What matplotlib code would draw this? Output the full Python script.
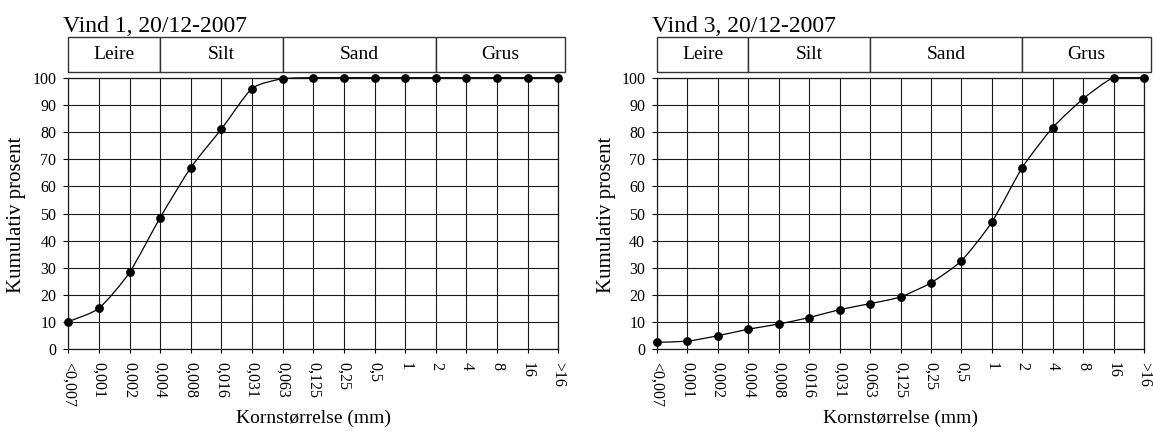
import matplotlib
matplotlib.use("Agg")
import matplotlib.pyplot as plt
from matplotlib.path import Path
from matplotlib.patches import PathPatch, Rectangle
import numpy as np

plt.rcParams['font.family'] = ['Liberation Serif', 'DejaVu Serif']

# ---------------- data ----------------
categories = ['<0,007', '0,001', '0,002', '0,004', '0,008', '0,016', '0,031',
              '0,063', '0,125', '0,25', '0,5', '1', '2', '4', '8', '16', '>16']
vind1 = [10.2, 15.1, 28.3, 48.5, 66.9, 81.1, 96.0, 99.6, 100, 100, 100,
         100, 100, 100, 100, 100, 100]
vind3 = [2.6, 3.0, 5.0, 7.4, 9.3, 11.7, 14.6, 16.8, 19.3, 24.5, 32.6,
         46.8, 66.9, 81.6, 92.2, 100, 100]
titles = ['Vind 1, 20/12-2007', 'Vind 3, 20/12-2007']
fractions = ['Leire', 'Silt', 'Sand', 'Grus']
fraction_starts = ['<0,007', '0,004', '0,063', '2']
yticks = [0, 10, 20, 30, 40, 50, 60, 70, 80, 90, 100]
xlabel = 'Kornstørrelse (mm)'
ylabel = 'Kumulativ prosent'

W, H = 1153, 432
fig = plt.figure(figsize=(W / 100, H / 100), dpi=100)
TENSION = 1 / 9


def smooth_path(xs, ys):
    xs = np.asarray(xs, float)
    ys = np.asarray(ys, float)
    n = len(xs)
    verts = [(xs[0], ys[0])]
    codes = [Path.MOVETO]
    for i in range(n - 1):
        p0 = i - 1 if i > 0 else i
        p3 = i + 2 if i + 2 < n else i + 1
        c1x = xs[i] + (xs[i + 1] - xs[p0]) * TENSION
        c1y = ys[i] + (ys[i + 1] - ys[p0]) * TENSION
        c2x = xs[i + 1] - (xs[p3] - xs[i]) * TENSION
        c2y = ys[i + 1] - (ys[p3] - ys[i]) * TENSION
        c1y = min(max(c1y, 0), 100)
        c2y = min(max(c2y, 0), 100)
        verts += [(c1x, c1y), (c2x, c2y), (xs[i + 1], ys[i + 1])]
        codes += [Path.CURVE4] * 3
    return Path(verts, codes)


def draw_chart(x0_px, w_px, values, title, ylab_x_px):
    left = x0_px / W
    bottom = 82.7 / H
    width = w_px / W
    height = 271.6 / H
    ax = fig.add_axes([left, bottom, width, height])
    x = np.arange(len(categories))
    ax.set_xlim(0, len(categories) - 1)
    ax.set_ylim(0, 100)
    ax.set_xticks(x)
    ax.set_xticklabels(categories, rotation=-90, ha='center', va='top',
                       fontsize=11.5)
    ax.set_yticks(yticks)
    ax.set_yticklabels([str(t) for t in yticks], fontsize=11.5)
    ax.tick_params(axis='y', direction='out', length=3.5, width=0.8, pad=5)
    ax.tick_params(axis='x', direction='out', length=3, width=0.8, pad=6)
    ax.grid(True, color='#1a1a1a', linewidth=0.8)
    ax.set_axisbelow(True)
    for s in ax.spines.values():
        s.set_color('#1a1a1a')
        s.set_linewidth(0.9)
    patch = PathPatch(smooth_path(x, values), facecolor='none',
                      edgecolor='black', linewidth=0.9, clip_on=False,
                      zorder=3)
    ax.add_patch(patch)
    ax.plot(x, values, linestyle='none', marker='o', markersize=5.3,
            color='black', clip_on=False, zorder=4)

    # header boxes
    hax = fig.add_axes([left, (H - 71.7) / H, width, 35 / H])
    hax.set_xlim(0, len(categories) - 1)
    hax.set_ylim(0, 1)
    hax.axis('off')
    starts = [categories.index(c) for c in fraction_starts]
    ends = starts[1:] + [len(categories) - 1 + 0.22]
    for name, s, e in zip(fractions, starts, ends):
        hax.add_patch(Rectangle((s, 0), e - s, 1, facecolor='white',
                                edgecolor='#333333', linewidth=1.0,
                                clip_on=False))
        hax.text((s + e) / 2, 0.5, name, ha='center', va='center',
                 fontsize=14)

    fig.text((x0_px - 5.4) / W, (H - 32.5) / H, title, ha='left',
             va='baseline', fontsize=17)
    fig.text(ylab_x_px / W, 1 - 215 / H, ylabel, rotation=90, ha='center',
             va='center', fontsize=15)
    fig.text(left + width / 2, 1 - 418 / H, xlabel, ha='center',
             va='center', fontsize=14)
    return ax


draw_chart(68.3, 490, vind1, titles[0], 17)
draw_chart(657.0, 487, vind3, titles[1], 606)

fig.savefig('out.png', dpi=100)
